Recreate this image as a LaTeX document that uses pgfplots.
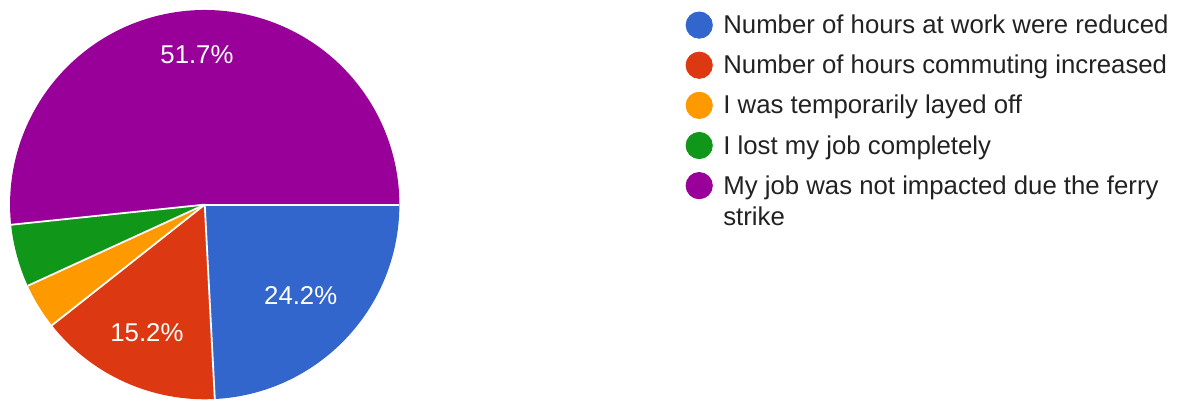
\documentclass[border=0pt]{standalone}
\usepackage{pgfplots}
\pgfplotsset{compat=1.18}
\usepackage{pgfplotstable}
\usepackage{fontspec}
\setmainfont{Liberation Sans}

\definecolor{cblue}{HTML}{3366CC}
\definecolor{cred}{HTML}{DC3912}
\definecolor{corange}{HTML}{FF9900}
\definecolor{cgreen}{HTML}{109618}
\definecolor{cpurple}{HTML}{990099}
\definecolor{legtext}{HTML}{222222}

% shares in percent, clockwise from 3 o'clock; lr = label radius (0 = no label)
\pgfplotstableread{
share col     lr
24.2  cblue   0.68
15.2  cred    0.72
3.8   corange 0
5.2   cgreen  0
51.7  cpurple 0.77
}\piedata

\newcommand{\pieR}{97.5pt}
\newcommand{\lastentry}{\begin{tabular}[t]{@{}l@{}}My job was not impacted due the ferry\\strike\end{tabular}}

\begin{document}
\begin{tikzpicture}
\begin{axis}[
    at={(101.5pt,98pt)}, anchor=origin,
    x=97.5pt, y=97.5pt,
    xmin=-1, xmax=1, ymin=-1, ymax=1,
    hide axis, clip=false,
    legend style={draw=none, fill=none, inner sep=0pt,
        at={(axis cs:2.4705,0.992)}, anchor=north west,
        row sep=6.9pt,
        font=\fontsize{12.9}{15.8}\selectfont,
        text=legtext,
        nodes={inner sep=0pt, text height=10.6pt, text depth=2pt},
        cells={anchor=west},
        /tikz/every odd column/.style={column sep=5.5pt}},
]
\pgfplotsextra{
  \pgfplotstablegetrowsof{\piedata}
  \pgfmathtruncatemacro\lastrow{\pgfplotsretval-1}
  % total of the shares
  \gdef\total{0}
  \foreach \i in {0,...,\lastrow}{
    \pgfplotstablegetelem{\i}{share}\of\piedata
    \pgfmathsetmacro\tmp{\total+\pgfplotsretval}
    \xdef\total{\tmp}
  }
  % slices
  \gdef\angA{0}
  \foreach \i in {0,...,\lastrow}{
    \pgfplotstablegetelem{\i}{share}\of\piedata \let\sh\pgfplotsretval
    \pgfplotstablegetelem{\i}{col}\of\piedata \let\cl\pgfplotsretval
    \pgfmathsetmacro\angB{\angA-\sh/\total*360}
    \fill[fill=\cl] (axis cs:0,0) -- (axis cs:{cos(\angA)},{sin(\angA)})
      arc[start angle=\angA, end angle=\angB, radius=\pieR] -- cycle;
    \xdef\angA{\angB}
  }
  % separators and labels
  \gdef\angA{0}
  \foreach \i in {0,...,\lastrow}{
    \pgfplotstablegetelem{\i}{share}\of\piedata \let\sh\pgfplotsretval
    \pgfplotstablegetelem{\i}{lr}\of\piedata \let\lr\pgfplotsretval
    \pgfmathsetmacro\angB{\angA-\sh/\total*360}
    \pgfmathsetmacro\angM{(\angA+\angB)/2}
    \draw[white, line width=0.9pt] (axis cs:0,0) -- (axis cs:{cos(\angA)},{sin(\angA)});
    \ifdim\lr pt>0pt
      \node[white, inner sep=0pt, font=\fontsize{12.9}{15}\selectfont]
        at (axis cs:{\lr*cos(\angM)},{\lr*sin(\angM)}) {\sh\%};
    \fi
    \xdef\angA{\angB}
  }
}
\addlegendimage{only marks, mark=*, mark size=6.6pt, color=cblue}
\addlegendentry{Number of hours at work were reduced}
\addlegendimage{only marks, mark=*, mark size=6.6pt, color=cred}
\addlegendentry{Number of hours commuting increased}
\addlegendimage{only marks, mark=*, mark size=6.6pt, color=corange}
\addlegendentry{I was temporarily layed off}
\addlegendimage{only marks, mark=*, mark size=6.6pt, color=cgreen}
\addlegendentry{I lost my job completely}
\addlegendimage{only marks, mark=*, mark size=6.6pt, color=cpurple}
\addlegendentry{\lastentry}
\end{axis}
\path (0,0) rectangle (590pt,200.5pt);
\end{tikzpicture}
\end{document}
